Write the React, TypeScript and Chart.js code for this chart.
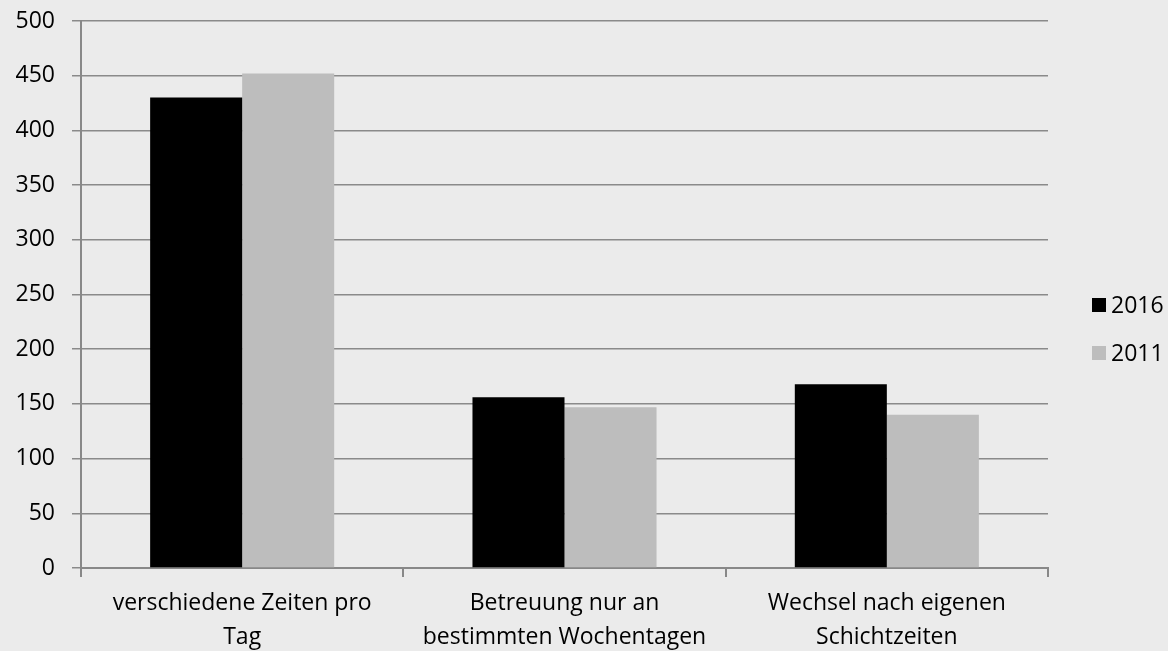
import React, { useEffect, useRef } from "react";
import { Chart, registerables } from "chart.js";

Chart.register(...registerables);

const categories: string[][] = [
  ["verschiedene Zeiten pro", "Tag"],
  ["Betreuung nur an", "bestimmten Wochentagen"],
  ["Wechsel nach eigenen", "Schichtzeiten"],
];
const series2016: number[] = [430, 156, 168];
const series2011: number[] = [452, 147, 140];
const seriesLabels: string[] = ["2016", "2011"];

const FONT = "'Open Sans', 'Noto Sans', sans-serif";

const sideLegend = {
  id: "sideLegend",
  afterDraw(chart: any) {
    const ctx = chart.ctx as CanvasRenderingContext2D;
    const ds = chart.data.datasets;
    const startY = 305;
    const step = 48;
    ctx.save();
    ctx.font = `23px ${FONT}`;
    ctx.textBaseline = "middle";
    ctx.textAlign = "left";
    ds.forEach((d: any, i: number) => {
      const cy = startY + i * step;
      ctx.fillStyle = d.backgroundColor;
      ctx.fillRect(1092, cy - 7, 14, 14);
      ctx.fillStyle = "#000";
      ctx.fillText(d.label, 1111, cy + 1);
    });
    ctx.restore();
  },
};

export default function App() {
  const ref = useRef<HTMLCanvasElement | null>(null);

  useEffect(() => {
    document.body.style.margin = "0";
    const canvas = ref.current;
    if (!canvas) return;
    const chart = new Chart(canvas, {
      type: "bar",
      data: {
        labels: categories,
        datasets: [
          {
            label: seriesLabels[0],
            data: series2016,
            backgroundColor: "#000000",
            borderWidth: 0,
          },
          {
            label: seriesLabels[1],
            data: series2011,
            backgroundColor: "#bdbdbd",
            borderWidth: 0,
          },
        ],
      },
      options: {
        animation: false,
        responsive: false,
        maintainAspectRatio: false,
        layout: { padding: { top: 21, left: 0, right: 120, bottom: 0 } },
        datasets: {
          bar: { categoryPercentage: 0.571, barPercentage: 1 },
        },
        plugins: {
          legend: { display: false },
          tooltip: { enabled: false },
        },
        scales: {
          x: {
            afterFit: (s: any) => {
              s.height = 83;
              s.paddingLeft = 0;
              s.paddingRight = 0;
            },
            grid: {
              offset: true,
              drawOnChartArea: false,
              drawTicks: true,
              tickLength: 9,
              color: "#888888",
              lineWidth: 2,
            },
            border: { color: "#888888", width: 2 },
            ticks: {
              color: "#000",
              font: { family: FONT, size: 23, lineHeight: 1.48 },
              padding: 9,
              maxRotation: 0,
              autoSkip: false,
            },
          },
          y: {
            min: 0,
            max: 500,
            afterFit: (s: any) => {
              s.width = 81;
              s.paddingTop = 0;
              s.paddingBottom = 0;
            },
            grid: {
              color: "#8a8a8a",
              lineWidth: 1.5,
              tickLength: 9,
            },
            border: { color: "#888888", width: 2 },
            ticks: {
              stepSize: 50,
              color: "#000",
              font: { family: FONT, size: 23 },
              padding: 17,
            },
          },
        },
      },
      plugins: [sideLegend],
    });
    return () => chart.destroy();
  }, []);

  return (
    <div style={{ width: 1168, height: 651, background: "#ebebeb", position: "relative" }}>
      <canvas ref={ref} width={1168} height={651} style={{ display: "block" }} />
    </div>
  );
}
